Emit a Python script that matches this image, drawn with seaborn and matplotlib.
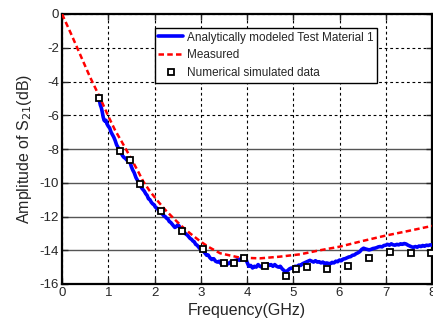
import numpy as np
import pandas as pd
import matplotlib
matplotlib.use("Agg")
import matplotlib.pyplot as plt
import seaborn as sns

# ---- data ----
blue_f = [0.79, 0.81, 0.83, 0.85, 0.87, 0.89, 0.91, 0.93, 0.95, 0.97, 1.00, 1.03, 1.06, 1.09, 1.12,
          1.15, 1.18, 1.21, 1.25, 1.28, 1.31, 1.34, 1.37, 1.40, 1.44, 1.47, 1.50, 1.53, 1.56, 1.60,
          1.63, 1.66, 1.69, 1.72, 1.75, 1.78, 1.81, 1.84, 1.87, 1.90, 1.93, 1.96, 1.99, 2.02, 2.05,
          2.08, 2.11, 2.14, 2.17, 2.20, 2.23, 2.26, 2.29, 2.32, 2.35, 2.38, 2.41, 2.44, 2.47, 2.50,
          2.53, 2.56, 2.59, 2.62, 2.65, 2.68, 2.71, 2.74, 2.77, 2.80, 2.83, 2.86, 2.89, 2.92, 2.95,
          2.98, 3.01, 3.04, 3.07, 3.10, 3.13, 3.16, 3.20, 3.24, 3.28, 3.32, 3.36, 3.40, 3.44, 3.48,
          3.52, 3.56, 3.60, 3.64, 3.68, 3.72, 3.76, 3.80, 3.84, 3.88, 3.92, 3.96, 4.00, 4.04, 4.08,
          4.12, 4.16, 4.20, 4.24, 4.28, 4.32, 4.36, 4.40, 4.44, 4.48, 4.52, 4.56, 4.60, 4.64, 4.68,
          4.72, 4.76, 4.80, 4.84, 4.88, 4.92, 4.96, 5.00, 5.04, 5.08, 5.12, 5.16, 5.20, 5.24, 5.28,
          5.32, 5.36, 5.40, 5.44, 5.48, 5.52, 5.56, 5.60, 5.64, 5.68, 5.72, 5.76, 5.80, 5.84, 5.88,
          5.92, 5.96, 6.00, 6.04, 6.08, 6.12, 6.16, 6.20, 6.24, 6.28, 6.32, 6.36, 6.40, 6.44, 6.48,
          6.52, 6.56, 6.60, 6.64, 6.68, 6.72, 6.76, 6.80, 6.84, 6.88, 6.92, 6.96, 7.00, 7.04, 7.08,
          7.12, 7.16, 7.20, 7.24, 7.28, 7.32, 7.36, 7.40, 7.44, 7.48, 7.52, 7.56, 7.60, 7.64, 7.68,
          7.72, 7.76, 7.80, 7.84, 7.88, 7.92, 7.96, 8.00]
blue_db = [-5.00, -5.15, -5.40, -5.55, -5.80, -6.10, -6.30, -6.35, -6.30, -6.50, -6.65, -6.75, -7.00, -7.15, -7.30,
           -7.50, -7.75, -7.90, -8.05, -8.25, -8.40, -8.50, -8.55, -8.65, -8.70, -8.78, -9.05, -9.25, -9.40, -9.70,
           -9.85, -10.00, -10.10, -10.30, -10.40, -10.50, -10.65, -10.75, -10.95, -11.00, -11.15, -11.25, -11.30, -11.45, -11.50,
           -11.60, -11.75, -11.80, -11.85, -11.95, -12.00, -12.10, -12.15, -12.30, -12.35, -12.45, -12.55, -12.65, -12.60, -12.50,
           -12.55, -12.75, -12.85, -12.90, -12.95, -13.05, -13.10, -13.20, -13.30, -13.35, -13.45, -13.50, -13.65, -13.70, -13.80,
           -13.90, -13.95, -14.00, -14.10, -14.20, -14.30, -14.28, -14.45, -14.55, -14.50, -14.65, -14.70, -14.65, -14.80, -14.75,
           -14.85, -14.78, -14.80, -14.70, -14.75, -14.62, -14.60, -14.55, -14.60, -14.45, -14.40, -14.38, -14.70, -14.95, -14.90,
           -15.05, -14.95, -15.00, -14.85, -14.95, -15.00, -14.85, -14.90, -14.80, -14.90, -14.85, -14.95, -14.85, -14.95, -15.00,
           -14.95, -15.10, -15.20, -15.28, -15.20, -15.10, -15.05, -15.08, -14.95, -14.98, -14.88, -14.90, -14.80, -14.75, -14.70,
           -14.65, -14.60, -14.65, -14.70, -14.62, -14.70, -14.68, -14.75, -14.70, -14.80, -14.75, -14.78, -14.80, -14.72, -14.75,
           -14.65, -14.68, -14.58, -14.62, -14.52, -14.50, -14.45, -14.40, -14.38, -14.30, -14.28, -14.20, -14.15, -14.08, -13.95,
           -13.88, -13.92, -13.95, -13.98, -13.95, -13.90, -13.88, -13.85, -13.80, -13.78, -13.80, -13.72, -13.70, -13.65, -13.70,
           -13.62, -13.68, -13.70, -13.65, -13.68, -13.62, -13.65, -13.60, -13.63, -13.70, -13.75, -13.80, -13.83, -13.78, -13.82,
           -13.75, -13.78, -13.72, -13.76, -13.70, -13.72, -13.68, -13.70]

red_f = [0.0, 0.2, 0.4, 0.6, 0.82, 1.0, 1.15, 1.29, 1.40, 1.51, 1.64, 1.76, 1.90, 2.05, 2.23, 2.41,
         2.59, 2.77, 2.98, 3.16, 3.42, 3.85, 4.28, 4.71, 5.15, 5.54, 6.0, 6.5, 7.0, 7.5, 8.0]
red_db = [0.0, -1.2, -2.45, -3.7, -4.95, -6.05, -6.9, -7.56, -8.1, -8.65, -9.3, -9.94, -10.5, -11.02,
          -11.6, -12.1, -12.58, -13.0, -13.45, -13.79, -14.18, -14.44, -14.48, -14.38, -14.24, -14.02,
          -13.79, -13.45, -13.13, -12.85, -12.56]

sim_f = [0.79, 1.25, 1.47, 1.69, 2.14, 2.59, 3.04, 3.50, 3.72, 3.94, 4.39, 4.84, 5.07, 5.29,
         5.74, 6.19, 6.64, 7.09, 7.54, 7.98]
sim_db = [-5.0, -8.1, -8.63, -10.09, -11.67, -12.86, -13.93, -14.78, -14.73, -14.44, -14.93,
          -15.53, -15.09, -14.97, -15.13, -14.91, -14.48, -14.12, -14.18, -14.14]

x_ticks = [0, 1, 2, 3, 4, 5, 6, 7, 8]
y_ticks = [0, -2, -4, -6, -8, -10, -12, -14, -16]

lbl_blue = "Analytically modeled Test Material 1"
lbl_red = "Measured"
lbl_sim = "Numerical simulated data"

# ---- plotting ----
sns.set_style("ticks")
plt.rcParams['font.family'] = ['Liberation Sans', 'DejaVu Sans']
plt.rcParams['xtick.direction'] = 'in'
plt.rcParams['ytick.direction'] = 'in'

fig = plt.figure(figsize=(4.33, 3.19), dpi=100)
ax = fig.add_axes([62/433, 1-284/319, 370/433, 270/319])

blue_df = pd.DataFrame({"f": blue_f, "db": blue_db})
red_df = pd.DataFrame({"f": red_f, "db": red_db})

sns.lineplot(data=blue_df, x="f", y="db", ax=ax, color="#0000ff", lw=2.6,
             label=lbl_blue, zorder=3, estimator=None, sort=False)
sns.lineplot(data=red_df, x="f", y="db", ax=ax, color="#ff0000", lw=1.8,
             label=lbl_red, zorder=4, estimator=None, sort=False)
ax.lines[-1].set_dashes((2.2, 1.3))
ax.plot(sim_f, sim_db, ls="none", marker="s", ms=5, mfc="white", mec="black",
        mew=1.3, label=lbl_sim, zorder=5)

ax.set_xlim(0, 8)
ax.set_ylim(-16, 0)
ax.set_xticks(x_ticks)
ax.set_yticks(y_ticks)
ax.set_xticklabels([str(v) for v in x_ticks], fontsize=9.5)
ax.set_yticklabels([str(v) for v in y_ticks], fontsize=9.5)
ax.tick_params(axis="both", which="both", direction="in", length=4, width=1,
               top=True, right=True, pad=2)
for s in ax.spines.values():
    s.set_linewidth(1.6)
    s.set_color("black")

ax.grid(True, color="black", ls=(0, (2.5, 2.5)), lw=0.8)
for val, gl in zip(y_ticks, ax.yaxis.get_gridlines()):
    if val <= -8:
        gl.set_linestyle("-")
        gl.set_color("#555555")
        gl.set_linewidth(1.0)
ax.set_axisbelow(True)

ax.set_xlabel("Frequency(GHz)", fontsize=11.5, labelpad=3)
ax.set_ylabel("Amplitude of S$_{21}$(dB)", fontsize=11.5, labelpad=4)

leg = ax.legend(loc="upper left", bbox_to_anchor=(0.251, 0.948), fontsize=8.5,
                frameon=True, fancybox=False, framealpha=1, edgecolor="black",
                borderpad=0.3, labelspacing=0.5, handlelength=2.1, handletextpad=0.3,
                borderaxespad=0)
leg.get_frame().set_linewidth(1.0)

fig.savefig("out.png", dpi=100)
